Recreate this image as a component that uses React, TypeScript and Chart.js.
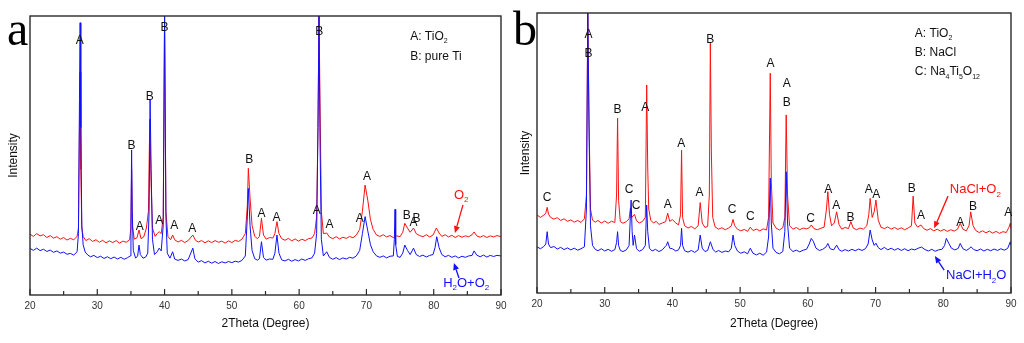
import React, { useEffect, useRef } from "react";
import { Chart, registerables } from "chart.js";
Chart.register(...registerables);

type Pt = [number, number];
type Seg = [string, boolean];
type Lbl = [number, number, string];

// ---------- axis ticks ----------
const majorTicks = [20, 30, 40, 50, 60, 70, 80, 90];
const minorTicks = [25, 35, 45, 55, 65, 75, 85];

// ---------- panel a data ----------
const redA: Pt[] = [
  [20, 21.8], [20.5, 21.0], [21, 22.0], [21.5, 21.2], [22, 21.6], [22.5, 20.6], [23, 21.3], [23.5, 20.4], [24, 20.9], [24.5, 20.0],
  [25, 20.6], [25.5, 19.7], [26, 20.3], [26.5, 19.8], [27.0, 21.0], [27.2, 24], [27.35, 60], [27.45, 80], [27.55, 45], [27.7, 24],
  [27.9, 21], [28.3, 19.5], [28.8, 20.2], [29.3, 19.2], [29.8, 19.8], [30.3, 18.9], [30.8, 19.6], [31.3, 18.7], [31.8, 19.4], [32.3, 18.8],
  [32.8, 19.5], [33.3, 18.6], [33.8, 19.3], [34.3, 18.9], [34.8, 19.8], [35.0, 24], [35.1, 45], [35.2, 25], [35.5, 20], [35.9, 20.5],
  [36.2, 23.3], [36.5, 20.2], [36.9, 20.8], [37.3, 24], [37.6, 30], [37.8, 63], [38.0, 40], [38.2, 24], [38.6, 21], [38.9, 22],
  [39.2, 22.7], [39.5, 22], [39.8, 28], [40.0, 100], [40.2, 30], [40.5, 21], [40.9, 19.8], [41.2, 21.5], [41.5, 19.8], [42, 19.0],
  [42.5, 19.6], [43, 18.8], [43.5, 19.5], [44.2, 21.5], [44.6, 19.6], [45, 19.0], [45.5, 19.5], [46, 18.7], [46.5, 19.4], [47, 18.8],
  [47.5, 19.5], [48, 18.9], [48.5, 19.3], [49, 18.6], [49.5, 19.4], [50, 18.8], [50.5, 19.6], [51, 19.2], [51.5, 20.0], [52.0, 22],
  [52.3, 32], [52.45, 45.4], [52.7, 35], [53.0, 25], [53.4, 21], [53.8, 20.2], [54.1, 21], [54.4, 27.5], [54.7, 21.5], [55.1, 20],
  [55.6, 20.6], [56.1, 20.4], [56.4, 22], [56.7, 26.3], [57.0, 22], [57.4, 20.2], [57.9, 19.6], [58.4, 20.3], [58.9, 19.4], [59.4, 20.1],
  [59.9, 19.3], [60.4, 20.0], [60.9, 19.5], [61.4, 20.2], [61.9, 20.4], [62.3, 22], [62.6, 28], [62.8, 60], [62.95, 100], [63.1, 70],
  [63.3, 30], [63.6, 22], [64.1, 22.2], [64.5, 20.8], [65, 20.2], [65.5, 20.9], [66, 20.1], [66.5, 20.7], [67, 20.3], [67.5, 21.0],
  [68, 20.5], [68.5, 21.5], [69.0, 23.5], [69.4, 30], [69.8, 39.4], [70.2, 34], [70.6, 27], [71.0, 23.5], [71.5, 21.5], [72, 21.0],
  [72.5, 21.6], [73, 20.8], [73.5, 21.3], [74, 20.6], [74.5, 21.2], [75, 20.9], [75.4, 22.5], [75.7, 25.7], [76.1, 24], [76.5, 22.5],
  [77.0, 24], [77.4, 22], [77.9, 21.3], [78.4, 20.9], [78.9, 21.6], [79.4, 20.8], [79.9, 21.5], [80.4, 24], [80.8, 22.2], [81.2, 21],
  [81.7, 21.6], [82.2, 20.8], [82.7, 21.4], [83.2, 20.6], [83.7, 21.3], [84.2, 20.7], [84.7, 21.2], [85.2, 20.9], [85.7, 21.6], [86.0, 22.6],
  [86.4, 21.2], [86.9, 20.7], [87.4, 21.3], [87.9, 20.6], [88.4, 21.2], [88.9, 20.8], [89.4, 21.3], [90, 20.9],
];
const blueA: Pt[] = [
  [20, 16.7], [20.5, 16.0], [21, 16.8], [21.5, 15.9], [22, 16.4], [22.5, 15.6], [23, 16.1], [23.5, 15.3], [24, 15.8], [24.5, 15.0],
  [25, 15.4], [25.5, 14.6], [26, 14.9], [26.5, 14.3], [27.0, 15.5], [27.2, 22], [27.35, 70], [27.45, 97.6], [27.55, 60], [27.7, 25],
  [27.9, 18], [28.2, 15.4], [28.6, 14.3], [29, 13.7], [29.5, 14.2], [30, 13.4], [30.5, 13.9], [31, 13.1], [31.5, 13.7], [32, 13.0],
  [32.5, 13.6], [33, 12.9], [33.5, 13.5], [34, 12.8], [34.5, 13.4], [34.9, 14], [35.0, 25], [35.1, 52], [35.2, 30], [35.35, 16],
  [35.7, 13.2], [36.0, 14], [36.2, 17.9], [36.4, 14.5], [36.8, 13.2], [37.2, 13.6], [37.5, 15], [37.7, 30], [37.85, 70], [38.0, 45],
  [38.2, 20], [38.5, 14.5], [38.9, 15.5], [39.2, 16.8], [39.5, 15.8], [39.8, 25], [40.0, 100], [40.2, 28], [40.4, 15], [40.8, 13.2],
  [41.2, 15.5], [41.5, 12.9], [42, 12.4], [42.5, 12.9], [43, 12.2], [43.5, 12.7], [44.2, 16.8], [44.5, 13.0], [45, 11.8], [45.5, 12.3],
  [46, 11.5], [46.5, 12.1], [47, 11.4], [47.5, 12.0], [48, 11.3], [48.5, 11.9], [49, 11.5], [49.5, 12.0], [50, 11.6], [50.5, 12.1],
  [51, 11.8], [51.5, 12.4], [52.0, 14], [52.3, 28], [52.45, 38.2], [52.7, 25], [53.0, 16], [53.4, 13], [53.8, 12.5], [54.1, 13],
  [54.4, 19.1], [54.7, 13.5], [55.1, 12.5], [55.6, 12.9], [56.1, 12.8], [56.4, 15], [56.7, 21.5], [57.0, 15], [57.4, 12.6], [57.9, 12.2],
  [58.4, 12.8], [58.9, 12.1], [59.4, 12.7], [59.9, 12.2], [60.4, 12.9], [60.9, 12.4], [61.4, 13.0], [61.9, 13.3], [62.3, 15], [62.6, 22],
  [62.8, 60], [62.95, 100], [63.1, 55], [63.3, 20], [63.6, 14], [64.1, 15.5], [64.5, 13.5], [65, 12.8], [65.5, 13.4], [66, 12.7],
  [66.5, 13.3], [67, 12.9], [67.5, 13.5], [68, 13.2], [68.5, 14.0], [69.0, 16], [69.4, 22], [69.8, 28.1], [70.2, 23], [70.6, 18],
  [71.0, 15.5], [71.5, 14], [72, 13.5], [72.5, 14.0], [73, 13.3], [73.5, 13.9], [74.0, 14.0], [74.15, 20], [74.25, 30.7], [74.35, 18],
  [74.6, 13.8], [75.0, 13.5], [75.4, 15], [75.7, 17.9], [76.1, 16], [76.5, 14.5], [77.0, 16.8], [77.4, 14.5], [77.9, 13.8], [78.4, 14.3],
  [78.9, 13.6], [79.4, 14.2], [79.9, 14.5], [80.2, 17], [80.45, 20.9], [80.8, 17], [81.2, 14.5], [81.7, 13.7], [82.2, 14.2], [82.7, 13.5],
  [83.2, 14.0], [83.7, 13.3], [84.2, 13.9], [84.7, 13.5], [85.2, 14.0], [85.7, 14.2], [86.0, 15.8], [86.4, 14.3], [86.9, 13.7], [87.4, 14.3],
  [87.9, 13.6], [88.4, 14.2], [88.9, 13.8], [89.4, 14.2], [90, 14.0],
];
const peakLabelsA: Lbl[] = [
  [27.4, 91, "A"], [35.1, 53.4, "B"], [37.8, 71, "B"], [40.0, 95.7, "B"], [36.3, 24.4, "A"], [39.2, 26.5, "A"],
  [41.45, 24.7, "A"], [44.1, 23.9, "A"], [52.6, 48.4, "B"], [54.4, 29.3, "A"], [56.65, 27.7, "A"], [62.6, 30.2, "A"],
  [63.0, 94.3, "B"], [64.5, 25.3, "A"], [70.1, 42.4, "A"], [69.0, 27.2, "A"], [76.0, 28.3, "B"], [77.0, 25.9, "A"],
  [77.45, 27.3, "B"],
];
const legendA: Seg[][] = [
  [["A: TiO", false], ["2", true]],
  [["B: pure Ti", false]],
];
const legendPosA: Pt[] = [[76.5, 92.5], [76.5, 85.3]];
const curveTextA: Seg[][] = [
  [["O", false], ["2", true]],
  [["H", false], ["2", true], ["O+O", false], ["2", true]],
];
const curveTextPosA: Pt[] = [[83.0, 35.8], [81.4, 4.3]];
const arrowsA: [Pt, Pt][] = [
  [[84.35, 32.3], [83.16, 22.2]],
  [[83.75, 6.1], [83.0, 11.5]],
];

// ---------- panel b data ----------
const redB: Pt[] = [
  [20, 27.9], [20.5, 27.0], [21, 27.8], [21.3, 28.5], [21.5, 30.6], [21.7, 28.2], [22, 27.0], [22.5, 26.4], [23, 26.9], [23.5, 25.9],
  [24, 26.5], [24.5, 25.6], [25, 26.1], [25.5, 25.3], [26, 25.9], [26.5, 25.2], [27.0, 26.5], [27.3, 35], [27.5, 100], [27.7, 60],
  [27.9, 30], [28.2, 26], [28.6, 25.3], [29, 25.9], [29.5, 25.0], [30, 25.7], [30.5, 24.9], [31, 25.6], [31.5, 25.2], [31.75, 35],
  [31.9, 62.5], [32.05, 33], [32.3, 25.5], [32.7, 24.9], [33.2, 25.5], [33.6, 26.5], [33.8, 30.4], [34.0, 27], [34.4, 28.1], [34.7, 25.8],
  [35.1, 25.0], [35.6, 25.6], [36.0, 27], [36.2, 74.3], [36.35, 45], [36.5, 30], [36.8, 26], [37.2, 25.0], [37.6, 25.6], [38.0, 24.5],
  [38.5, 25.0], [39.0, 25.5], [39.3, 28.5], [39.6, 25.6], [40.0, 26.2], [40.5, 25.0], [40.9, 24.3], [41.2, 28], [41.35, 51], [41.5, 27],
  [41.8, 24.0], [42.3, 23.2], [42.8, 23.8], [43.3, 22.9], [43.8, 24.0], [44.1, 32.3], [44.4, 25], [44.8, 23.4], [45.2, 23.8], [45.45, 35],
  [45.6, 89.2], [45.75, 50], [45.95, 27], [46.3, 23.6], [46.8, 22.8], [47.3, 23.3], [47.8, 22.6], [48.3, 23.2], [48.7, 24], [48.95, 26.3],
  [49.2, 24], [49.6, 22.8], [50.1, 22.2], [50.6, 22.7], [51.1, 22.0], [51.5, 23.5], [51.9, 22.3], [52.4, 22.8], [52.9, 22.2], [53.4, 22.9],
  [53.9, 22.5], [54.2, 27], [54.45, 78.5], [54.6, 40], [54.85, 25], [55.3, 23.2], [55.8, 22.5], [56.3, 23.3], [56.6, 27], [56.8, 63.6],
  [57.0, 35], [57.3, 24], [57.8, 22.8], [58.3, 23.4], [58.8, 22.6], [59.3, 23.2], [59.8, 22.9], [60.2, 23.3], [60.5, 24.3], [60.9, 23.0],
  [61.4, 22.6], [61.9, 23.1], [62.4, 23.5], [62.75, 30], [62.95, 36.2], [63.2, 28], [63.5, 24], [63.9, 25], [64.25, 29], [64.6, 24.5],
  [65.0, 22.8], [65.5, 23.4], [66.0, 23.0], [66.35, 25.5], [66.7, 23.2], [67.2, 22.6], [67.7, 23.2], [68.2, 22.8], [68.7, 24.0], [69.0, 28],
  [69.2, 33.8], [69.5, 27], [69.8, 29], [70.05, 33.2], [70.4, 26], [70.8, 23.5], [71.3, 23.0], [71.8, 23.6], [72.3, 22.8], [72.8, 23.4],
  [73.3, 22.7], [73.8, 23.3], [74.3, 22.6], [74.8, 23.2], [75.3, 24], [75.55, 34.6], [75.8, 25], [76.2, 23.5], [76.7, 24.3], [77.1, 23.0],
  [77.6, 22.4], [78.1, 23.0], [78.6, 22.2], [79.1, 22.8], [79.6, 22.1], [80.1, 22.7], [80.6, 22.0], [81.1, 22.6], [81.6, 22.1], [82.1, 22.8],
  [82.5, 24.9], [82.9, 22.8], [83.4, 22.2], [83.8, 24], [84.05, 29], [84.4, 24], [84.8, 22.3], [85.3, 21.6], [85.8, 22.2], [86.3, 21.5],
  [86.8, 22.1], [87.3, 21.4], [87.8, 22.0], [88.3, 21.3], [88.8, 21.9], [89.3, 21.6], [89.7, 23.5], [89.9, 24.9], [90, 23],
];
const blueB: Pt[] = [
  [20, 16.5], [20.5, 15.8], [21, 16.6], [21.3, 17.5], [21.5, 21.9], [21.7, 17.5], [22, 16.2], [22.5, 16.6], [23, 15.7], [23.5, 16.3],
  [24, 15.5], [24.5, 16.1], [25, 15.4], [25.5, 16.0], [26, 15.3], [26.5, 15.8], [27.0, 16.5], [27.3, 30], [27.5, 100], [27.7, 55],
  [27.9, 24], [28.2, 17], [28.6, 15.6], [29, 15.1], [29.5, 15.8], [30, 15.0], [30.5, 15.6], [31, 14.9], [31.5, 15.5], [31.75, 18],
  [31.9, 21.9], [32.05, 17], [32.3, 15.2], [32.7, 14.8], [33.2, 15.4], [33.6, 17], [33.8, 28], [33.9, 33.2], [34.05, 22], [34.2, 17],
  [34.4, 20.7], [34.7, 15.8], [35.1, 14.9], [35.6, 15.5], [36.0, 17], [36.2, 31.4], [36.35, 22], [36.6, 16], [37.0, 15.0], [37.5, 15.6],
  [38.0, 14.8], [38.5, 15.4], [38.9, 16.5], [39.1, 17.0], [39.3, 18.3], [39.6, 16], [40.0, 15.8], [40.5, 15.0], [40.9, 15.4], [41.2, 17],
  [41.35, 23.1], [41.5, 17], [41.8, 15.1], [42.3, 14.6], [42.8, 15.2], [43.3, 14.5], [43.8, 15.4], [44.1, 20.7], [44.4, 16], [44.8, 14.8],
  [45.2, 15.2], [45.6, 18.3], [46.0, 15.5], [46.4, 14.6], [46.8, 15.2], [47.3, 14.5], [47.8, 15.0], [48.3, 14.7], [48.7, 16], [48.95, 20.7],
  [49.2, 17], [49.6, 15.0], [50.1, 14.2], [50.6, 14.7], [51.1, 14.0], [51.5, 16.0], [51.9, 14.2], [52.4, 13.6], [52.9, 14.2], [53.4, 13.5],
  [53.9, 14.6], [54.2, 20], [54.45, 41], [54.6, 25], [54.85, 16], [55.3, 14.5], [55.8, 14.0], [56.3, 14.8], [56.6, 22], [56.8, 43.3],
  [57.0, 25], [57.3, 16], [57.8, 14.8], [58.3, 15.3], [58.8, 14.7], [59.3, 15.3], [59.8, 15.6], [60.2, 17.5], [60.5, 19.5], [60.8, 18.5],
  [61.2, 16], [61.7, 15.2], [62.2, 15.6], [62.7, 16.5], [62.95, 17.7], [63.3, 15.8], [63.8, 15.4], [64.25, 17.1], [64.6, 15.5], [65.0, 14.9],
  [65.5, 15.5], [66.0, 15.0], [66.5, 15.6], [67.0, 15.1], [67.5, 15.7], [68.0, 15.2], [68.5, 15.8], [68.9, 17.5], [69.2, 22.5], [69.5, 19.0],
  [69.8, 17.0], [70.05, 17.8], [70.4, 16.2], [70.8, 15.5], [71.3, 16.3], [71.8, 15.4], [72.3, 16.0], [72.8, 15.3], [73.3, 15.9], [73.8, 15.2],
  [74.3, 15.8], [74.8, 15.1], [75.3, 15.7], [75.8, 15.4], [76.3, 16.0], [76.8, 16.4], [77.3, 15.5], [77.8, 15.0], [78.3, 15.6], [78.8, 14.9],
  [79.3, 15.4], [79.8, 15.6], [80.2, 17], [80.45, 19.5], [80.8, 17.8], [81.2, 16], [81.7, 15.4], [82.2, 15.9], [82.5, 17.7], [82.9, 15.8],
  [83.4, 15.2], [83.8, 15.8], [84.1, 16.5], [84.5, 15.5], [85.0, 15.1], [85.5, 15.7], [86.0, 15.0], [86.5, 15.6], [87.0, 15.1], [87.5, 15.7],
  [88.0, 15.2], [88.5, 15.8], [89.0, 15.3], [89.5, 15.9], [89.9, 18.3], [90, 17],
];
const peakLabelsB: Lbl[] = [
  [21.5, 34.2, "C"], [27.6, 92.1, "A"], [27.6, 85.4, "B"], [31.9, 65.6, "B"], [36.0, 66.3, "A"], [41.3, 53.5, "A"],
  [45.6, 90.4, "B"], [54.5, 82, "A"], [56.9, 74.9, "A"], [56.9, 68, "B"], [33.6, 36.8, "C"], [34.65, 31.1, "C"],
  [39.3, 31.4, "A"], [44.0, 35.8, "A"], [48.8, 29.9, "C"], [51.5, 27.3, "C"], [60.4, 26.7, "C"], [63.0, 36.8, "A"],
  [64.2, 31.1, "A"], [66.3, 27, "B"], [69.0, 36.8, "A"], [70.1, 35, "A"], [75.35, 37.4, "B"], [76.7, 27.5, "A"],
  [82.5, 25.1, "A"], [84.4, 30.8, "B"], [89.6, 28.8, "A"],
];
const legendB: Seg[][] = [
  [["A: TiO", false], ["2", true]],
  [["B: NaCl", false]],
  [["C: Na", false], ["4", true], ["Ti", false], ["5", true], ["O", false], ["12", true]],
];
const legendPosB: Pt[] = [[75.8, 92.5], [75.8, 85.7], [75.8, 78.9]];
const curveTextB: Seg[][] = [
  [["NaCl+O", false], ["2", true]],
  [["NaCl+H", false], ["2", true], ["O", false]],
];
const curveTextPosB: Pt[] = [[80.97, 37.0], [80.4, 6.1]];
const arrowsB: [Pt, Pt][] = [
  [[80.7, 34.6], [78.65, 23.1]],
  [[80.13, 8.2], [78.75, 13.2]],
];

const RED = "#ff1010";
const BLUE = "#1010ff";
const SANS = '"Liberation Sans", Arial, sans-serif';

interface PanelCfg {
  letter: string;
  letterPos: Pt;
  red: Pt[];
  blue: Pt[];
  labels: Lbl[];
  legend: Seg[][];
  legendPos: Pt[];
  curveText: Seg[][];
  curvePos: Pt[];
  arrows: [Pt, Pt][];
  pad: { top: number; right: number };
  yWidth: number;
  xHeight: number;
}

function drawSegs(ctx: CanvasRenderingContext2D, segs: Seg[], x: number, y: number, size: number) {
  let cx = x;
  for (const [t, sub] of segs) {
    const s = sub ? Math.round(size * 0.62) : size;
    ctx.font = `${s}px ${SANS}`;
    ctx.fillText(t, cx, sub ? y + size * 0.38 : y);
    cx += ctx.measureText(t).width;
  }
}

function drawArrow(ctx: CanvasRenderingContext2D, x0: number, y0: number, x1: number, y1: number) {
  const ang = Math.atan2(y1 - y0, x1 - x0);
  const hl = 7, hw = 3;
  const bx = x1 - hl * Math.cos(ang), by = y1 - hl * Math.sin(ang);
  ctx.beginPath();
  ctx.moveTo(x0, y0);
  ctx.lineTo(bx, by);
  ctx.stroke();
  ctx.beginPath();
  ctx.moveTo(x1, y1);
  ctx.lineTo(bx + hw * Math.sin(ang), by - hw * Math.cos(ang));
  ctx.lineTo(bx - hw * Math.sin(ang), by + hw * Math.cos(ang));
  ctx.closePath();
  ctx.fill();
}

function makePlugin(p: PanelCfg) {
  return {
    id: "deco" + p.letter,
    afterDraw(chart: any) {
      const { ctx, chartArea: ca, scales } = chart;
      const xs = scales.x, ys = scales.y;
      const X = (v: number) => xs.getPixelForValue(v);
      const Y = (v: number) => ys.getPixelForValue(v);
      ctx.save();
      ctx.strokeStyle = "#2a2a2a";
      ctx.lineWidth = 1.4;
      ctx.strokeRect(ca.left, ca.top, ca.right - ca.left, ca.bottom - ca.top);
      ctx.lineWidth = 1.2;
      for (const v of majorTicks) {
        ctx.beginPath(); ctx.moveTo(X(v), ca.bottom); ctx.lineTo(X(v), ca.bottom - 6); ctx.stroke();
      }
      for (const v of minorTicks) {
        ctx.beginPath(); ctx.moveTo(X(v), ca.bottom); ctx.lineTo(X(v), ca.bottom - 4); ctx.stroke();
      }
      // peak labels
      ctx.fillStyle = "#111";
      ctx.font = `12px ${SANS}`;
      ctx.textAlign = "center";
      ctx.textBaseline = "middle";
      for (const [x, y, t] of p.labels) ctx.fillText(t, X(x), Y(y));
      // legend
      ctx.textAlign = "left";
      p.legend.forEach((segs, i) => drawSegs(ctx, segs, X(p.legendPos[i][0]), Y(p.legendPos[i][1]), 12));
      // curve labels
      const cols = [RED, BLUE];
      p.curveText.forEach((segs, i) => {
        ctx.fillStyle = cols[i];
        drawSegs(ctx, segs, X(p.curvePos[i][0]), Y(p.curvePos[i][1]), 13);
      });
      p.arrows.forEach(([a, b], i) => {
        ctx.strokeStyle = cols[i];
        ctx.fillStyle = cols[i];
        ctx.lineWidth = 1.3;
        drawArrow(ctx, X(a[0]), Y(a[1]), X(b[0]), Y(b[1]));
      });
      // panel letter
      ctx.fillStyle = "#000";
      ctx.font = '48px "Liberation Serif", "Times New Roman", serif';
      ctx.textBaseline = "alphabetic";
      ctx.fillText(p.letter, p.letterPos[0], p.letterPos[1]);
      ctx.restore();
    },
  };
}

function Panel({ cfg }: { cfg: PanelCfg }) {
  const ref = useRef<HTMLCanvasElement>(null);
  useEffect(() => {
    if (!ref.current) return;
    const toXY = (a: Pt[]) => a.map(([x, y]) => ({ x, y }));
    const chart = new Chart(ref.current, {
      type: "line",
      data: {
        datasets: [
          { data: toXY(cfg.blue), borderColor: BLUE, borderWidth: 1, pointRadius: 0, tension: 0, fill: false },
          { data: toXY(cfg.red), borderColor: RED, borderWidth: 1, pointRadius: 0, tension: 0, fill: false },
        ],
      },
      options: {
        animation: false,
        responsive: false,
        events: [],
        layout: { padding: { left: 0, top: cfg.pad.top, right: cfg.pad.right, bottom: 0 } },
        plugins: { legend: { display: false }, tooltip: { enabled: false } },
        scales: {
          x: {
            type: "linear",
            min: 20,
            max: 90,
            grid: { display: false, drawTicks: false },
            border: { display: false },
            ticks: { stepSize: 10, padding: 5, color: "#333", font: { size: 10, family: SANS } },
            title: { display: true, text: "2Theta (Degree)", color: "#111", font: { size: 12, family: SANS }, padding: { top: 0, bottom: 12 } },
            afterFit: (s: any) => { s.height = cfg.xHeight; },
          },
          y: {
            type: "linear",
            min: 0,
            max: 100,
            grid: { display: false, drawTicks: false },
            border: { display: false },
            ticks: { display: false },
            title: { display: true, text: "Intensity", color: "#111", font: { size: 12, family: SANS }, padding: { top: 6, bottom: 0 } },
            afterFit: (s: any) => { s.width = cfg.yWidth; },
          },
        },
      },
      plugins: [makePlugin(cfg)],
    } as any);
    return () => chart.destroy();
  }, [cfg]);
  return <canvas ref={ref} width={512} height={343} style={{ width: 512, height: 343, display: "block" }} />;
}

const panelA: PanelCfg = {
  letter: "a", letterPos: [7, 45], red: redA, blue: blueA, labels: peakLabelsA,
  legend: legendA, legendPos: legendPosA, curveText: curveTextA, curvePos: curveTextPosA, arrows: arrowsA,
  pad: { top: 16, right: 11 }, yWidth: 30, xHeight: 48,
};
const panelB: PanelCfg = {
  letter: "b", letterPos: [1, 45], red: redB, blue: blueB, labels: peakLabelsB,
  legend: legendB, legendPos: legendPosB, curveText: curveTextB, curvePos: curveTextPosB, arrows: arrowsB,
  pad: { top: 13, right: 13 }, yWidth: 25, xHeight: 50,
};

export default function App() {
  return (
    <div style={{ position: "fixed", left: 0, top: 0, width: 1024, height: 343, background: "#fff", display: "flex" }}>
      <Panel cfg={panelA} />
      <Panel cfg={panelB} />
    </div>
  );
}
